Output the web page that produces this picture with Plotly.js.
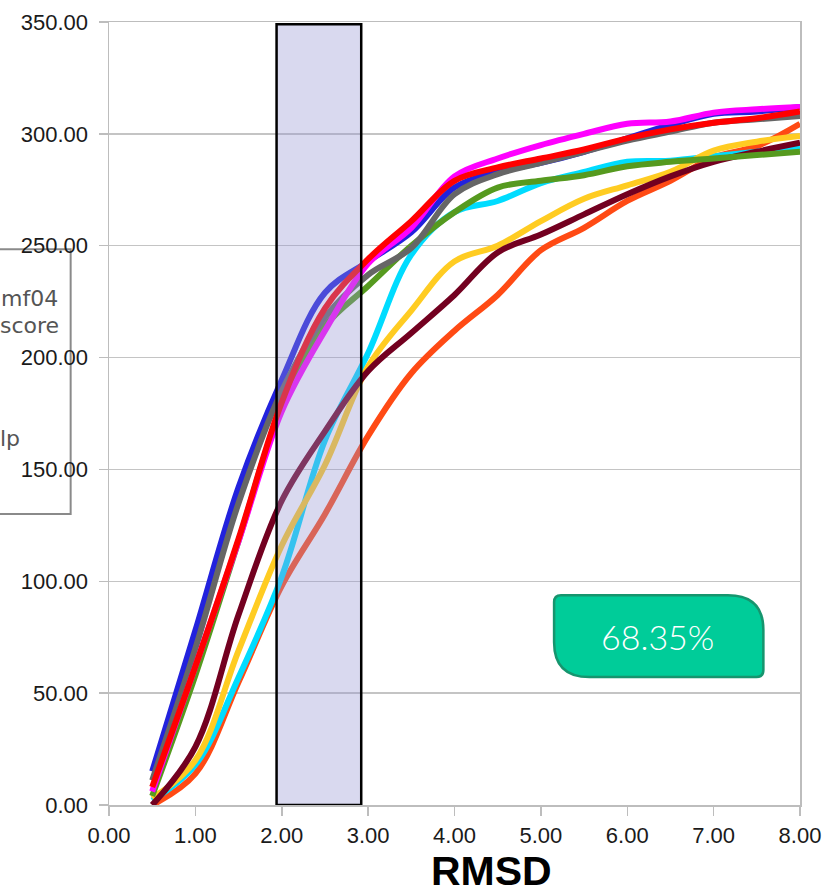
<!DOCTYPE html>
<html>
<head>
<meta charset="utf-8">
<script src="https://cdn.plot.ly/plotly-3.0.1.min.js"></script>
<style>html,body{margin:0;padding:0;background:#fff;}#chart{width:825px;height:895px;}</style>
</head>
<body>
<div id="chart"></div>
<script>
// RMSD sample points
var rmsd = [0.5, 1.0, 1.5, 2.0, 2.5, 3.0, 3.5, 4.0, 4.5, 5.0, 5.5, 6.0, 6.5, 7.0, 7.5, 8.0];

// Series values
var orangeVals  = [0, 14, 55, 98, 130, 165, 193, 212, 228, 248, 258, 270, 279, 289.5, 294.5, 304.5];
var cyanVals    = [2, 18, 57, 102, 163, 202, 246, 265, 270, 278, 283, 287.5, 288, 290, 292, 294];
var yellowVals  = [3, 20, 69, 116, 152, 196, 221, 243, 250, 261, 271, 277, 283, 292.5, 296.5, 299];
var maroonVals  = [0, 26, 85, 136, 167, 194, 211, 228, 247, 255, 264, 273, 281, 287.5, 292, 296];
var greenVals   = [4, 58, 118, 178, 214, 232, 250, 265, 276, 279, 281.5, 285.5, 287.5, 289, 290.5, 292];
var blueVals    = [15, 78, 142, 190, 229, 243, 256, 276, 283, 287, 292, 298, 304, 309, 310, 312];
var grayVals    = [11, 70, 135, 185, 218, 237, 249, 273, 282, 287, 292, 297, 301, 305, 306.5, 308];
var magentaVals = [6, 62, 118, 176, 212, 242, 258, 281, 289, 295, 300, 304.5, 305.5, 309.5, 311, 312];
var redVals     = [8, 62, 119, 180, 222, 244, 261, 279, 285, 289, 293, 298, 302, 305, 307, 310];

var seriesNames  = ['orange', 'cyan', 'yellow', 'maroon', 'green', 'blue', 'gray', 'magenta', 'red'];
var seriesValues = [orangeVals, cyanVals, yellowVals, maroonVals, greenVals, blueVals, grayVals, magentaVals, redVals];
var seriesColors = ['#ff4a14', '#00dcff', '#ffcc22', '#730020', '#569a1f', '#2222dd', '#666666', '#ff00ff', '#ff0000'];

// tick labels
var xTicks = [0, 1, 2, 3, 4, 5, 6, 7, 8];
var yTicks = [0, 50, 100, 150, 200, 250, 300, 350];

// highlighted RMSD window and badge
var bandRange = [1.94, 2.92];
var bandTop = 349;
var badgeText = '68.35%';
var legendLabels = ['mf04', 'score', 'lp'];

var traces = seriesValues.map(function (vals, i) {
  return {
    x: rmsd, y: vals, type: 'scatter', mode: 'lines', name: seriesNames[i],
    line: {color: seriesColors[i], width: 6, shape: 'spline', smoothing: 1}
  };
});

// badge geometry (data units)
var bx0 = 5.153, bx1 = 7.576, by0 = 57.2, by1 = 93.8;
var rsx = 0.08, rsy = 3.1, rlx = 0.41, rly = 15.6;
var badgePath = 'M ' + (bx0 + rsx) + ',' + by1 +
  ' L ' + (bx1 - rlx) + ',' + by1 +
  ' Q ' + bx1 + ',' + by1 + ' ' + bx1 + ',' + (by1 - rly) +
  ' L ' + bx1 + ',' + (by0 + rsy) +
  ' Q ' + bx1 + ',' + by0 + ' ' + (bx1 - rsx) + ',' + by0 +
  ' L ' + (bx0 + rlx) + ',' + by0 +
  ' Q ' + bx0 + ',' + by0 + ' ' + bx0 + ',' + (by0 + rly) +
  ' L ' + bx0 + ',' + (by1 - rsy) +
  ' Q ' + bx0 + ',' + by1 + ' ' + (bx0 + rsx) + ',' + by1 + ' Z';

var tickFont = {family: 'Liberation Sans, Arial, sans-serif', size: 22, color: '#1a1a1a'};

var layout = {
  width: 825, height: 895,
  margin: {l: 109, r: 25, t: 22, b: 90},
  paper_bgcolor: '#ffffff', plot_bgcolor: '#ffffff',
  showlegend: false,
  xaxis: {
    range: [0, 8], tickvals: xTicks, tickformat: '.2f',
    showgrid: false, zeroline: false,
    showline: true, linecolor: '#bdbdbd', linewidth: 1.5, mirror: true,
    ticks: 'outside', ticklen: 9, tickcolor: '#bdbdbd', tickwidth: 1.5,
    ticklabelstandoff: 1,
    tickfont: tickFont
  },
  yaxis: {
    range: [0, 350], tickvals: yTicks, tickformat: '.2f',
    showgrid: true, gridcolor: '#c4c4c4', gridwidth: 1.5, zeroline: false,
    showline: true, linecolor: '#bdbdbd', linewidth: 1.5, mirror: true,
    ticks: 'outside', ticklen: 9, tickcolor: '#bdbdbd', tickwidth: 1.5,
    ticklabelstandoff: 6,
    tickfont: tickFont
  },
  shapes: [
    {type: 'rect', xref: 'paper', yref: 'paper', x0: -0.17, x1: -0.0555, y0: 0.3715, y1: 0.7098,
     layer: 'below', fillcolor: '#ffffff', line: {color: '#8a8a8a', width: 2}},
    {type: 'rect', xref: 'x', yref: 'y', x0: bandRange[0], x1: bandRange[1], y0: 0, y1: bandTop,
     layer: 'above', fillcolor: 'rgba(150,150,212,0.36)', line: {color: '#000000', width: 2.5}},
    {type: 'path', xref: 'x', yref: 'y', path: badgePath, layer: 'above',
     fillcolor: '#00cc99', line: {color: '#16956e', width: 2.5}}
  ],
  annotations: [
    {xref: 'paper', yref: 'paper', x: 0.554, y: -0.0845, xanchor: 'center', yanchor: 'middle',
     text: '<b>RMSD</b>', showarrow: false,
     font: {family: 'Liberation Sans, Arial, sans-serif', size: 41, color: '#000000'}},
    {xref: 'x', yref: 'y', x: 6.347, y: 75.1, xanchor: 'center', yanchor: 'middle',
     text: badgeText, showarrow: false,
     font: {family: 'Lato, sans-serif', size: 34, color: '#ffffff', weight: 300}},
    {xref: 'paper', yref: 'paper', x: -0.0715, y: 0.647, xanchor: 'right', yanchor: 'middle',
     text: legendLabels[0], showarrow: false,
     font: {family: 'DejaVu Sans, sans-serif', size: 22, color: '#555555'}},
    {xref: 'paper', yref: 'paper', x: -0.069, y: 0.612, xanchor: 'right', yanchor: 'middle',
     text: legendLabels[1], showarrow: false,
     font: {family: 'DejaVu Sans, sans-serif', size: 22, color: '#555555'}},
    {xref: 'paper', yref: 'paper', x: -0.126, y: 0.468, xanchor: 'right', yanchor: 'middle',
     text: legendLabels[2], showarrow: false,
     font: {family: 'DejaVu Sans, sans-serif', size: 22, color: '#555555'}}
  ]
};

Plotly.newPlot('chart', traces, layout, {displayModeBar: false, staticPlot: true});
</script>
</body>
</html>
